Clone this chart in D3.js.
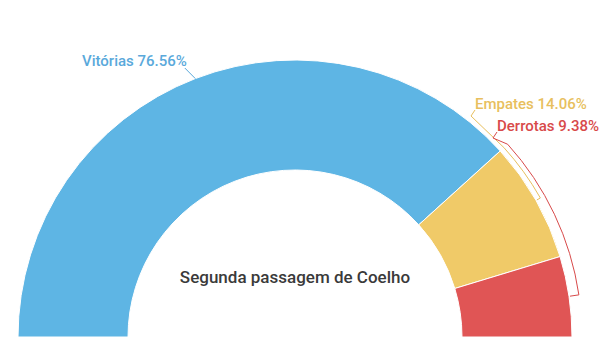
<!DOCTYPE html>
<html>
<head>
<meta charset="utf-8">
<script src="https://cdn.jsdelivr.net/npm/d3@7"></script>
<style>
  html, body { margin: 0; padding: 0; background: #fff; }
  svg { display: block; font-family: Roboto, "Noto Sans", sans-serif; }
</style>
</head>
<body>
<svg id="chart" width="614" height="349"></svg>
<script>
// Results of the second spell
const categories = ["Vitórias", "Empates", "Derrotas"];
const values = [76.56, 14.06, 9.38];
const fillColors = ["#5eb5e4", "#f0ca68", "#e05555"];
const textColors = ["#5aa9db", "#e8bf5e", "#d84a4a"];
const centerTitle = "Segunda passagem de Coelho";

const cx = 295, cy = 337;
const outerR = 277, innerR = 167;

const svg = d3.select("#chart");
const g = svg.append("g").attr("transform", `translate(${cx},${cy})`);

const pie = d3.pie().sort(null).startAngle(-Math.PI / 2).endAngle(Math.PI / 2);
const arcs = pie(values);
const arcGen = d3.arc().innerRadius(innerR).outerRadius(outerR);

g.selectAll("path.slice")
  .data(arcs)
  .join("path")
  .attr("class", "slice")
  .attr("d", arcGen)
  .attr("fill", (d, i) => fillColors[i])
  .attr("stroke", "#fff")
  .attr("stroke-width", 1);

const fmt = v => v.toFixed(2) + "%";
const pt = (a, r) => [r * Math.sin(a), -r * Math.cos(a)];

// label anchors (relative to center) and offset radius for the leader arc
const labelPos = [
  { x: 82 - cx, y: 66 - cy },
  { x: 475 - cx, y: 109 - cy },
  { x: 497 - cx, y: 131 - cy }
];
const leaderOffset = [0, 5, 10];

arcs.forEach((d, i) => {
  const mid = (d.startAngle + d.endAngle) / 2;
  const lp = labelPos[i];
  const t = g.append("text")
    .attr("x", lp.x).attr("y", lp.y)
    .attr("fill", textColors[i])
    .attr("font-size", 15)
    .attr("font-weight", 500)
    .text(`${categories[i]} ${fmt(values[i])}`);

  let path;
  if (i === 0) {
    const w = t.node().getComputedTextLength();
    const end = pt(mid, outerR);
    path = d3.path();
    path.moveTo(lp.x + w - 2, lp.y + 2);
    path.lineTo(end[0], end[1]);
  } else {
    const r = outerR + leaderOffset[i];
    const a0 = arcs[1].startAngle;
    const p0 = pt(a0, r);
    const pm = pt(mid, r);
    const pin = pt(mid, outerR + 1);
    path = d3.path();
    path.moveTo(lp.x, lp.y + 1);
    path.lineTo(lp.x - 4, lp.y + 7);
    path.lineTo(p0[0], p0[1]);
    path.arc(0, 0, r, a0 - Math.PI / 2, mid - Math.PI / 2);
    path.lineTo(pin[0], pin[1]);
  }
  g.append("path")
    .attr("d", path.toString())
    .attr("fill", "none")
    .attr("stroke", textColors[i])
    .attr("stroke-width", 1);
});

svg.append("text")
  .attr("x", cx).attr("y", 283)
  .attr("text-anchor", "middle")
  .attr("fill", "#3a3a3a")
  .attr("font-size", 17)
  .attr("font-weight", 500)
  .text(centerTitle);
</script>
</body>
</html>
